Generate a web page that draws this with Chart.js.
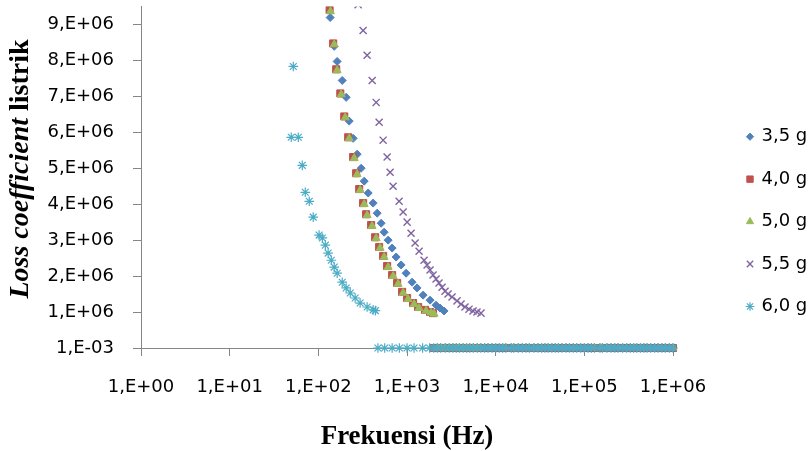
<!DOCTYPE html>
<html>
<head>
<meta charset="utf-8">
<script src="https://cdn.jsdelivr.net/npm/chart.js@4.4.1/dist/chart.umd.min.js"></script>
<style>
  html, body { margin: 0; padding: 0; background: #fff; }
  #wrap { width: 812px; height: 451px; }
</style>
</head>
<body>
<div id="wrap"><canvas id="chart" width="812" height="451"></canvas></div>
<script>
// --- values ---
const seriesLabels = ['3,5 g', '4,0 g', '5,0 g', '5,5 g', '6,0 g'];

const freq35 = [136, 151, 163, 186, 206, 223, 247, 274, 304, 329, 365, 415, 461, 511, 552, 613, 680, 754, 858, 977, 1141, 1299, 1518, 1820, 2127, 2358, 2617];
const loss35 = [9.19e6, 8.39e6, 7.97e6, 7.44e6, 6.97e6, 6.31e6, 5.83e6, 5.39e6, 5.00e6, 4.64e6, 4.31e6, 4.03e6, 3.75e6, 3.47e6, 3.22e6, 3.00e6, 2.78e6, 2.53e6, 2.31e6, 2.08e6, 1.83e6, 1.67e6, 1.47e6, 1.33e6, 1.19e6, 1.11e6, 1.03e6];

const freq40 = [134, 147, 159, 177, 196, 217, 247, 267, 289, 320, 346, 394, 437, 485, 538, 597, 680, 774, 881, 1003, 1171, 1334, 1599, 1820, 1967];
const loss40 = [9.40e6, 8.47e6, 7.75e6, 7.08e6, 6.44e6, 5.86e6, 5.31e6, 4.86e6, 4.42e6, 4.03e6, 3.72e6, 3.42e6, 3.08e6, 2.81e6, 2.56e6, 2.28e6, 2.03e6, 1.81e6, 1.56e6, 1.39e6, 1.25e6, 1.14e6, 1.06e6, 1.00e6, 0.97e6];

const freq50 = [137, 151, 163, 181, 201, 223, 254, 274, 296, 329, 355, 404, 449, 498, 552, 613, 698, 794, 904, 1029, 1202, 1369, 1641, 1868, 2019];
const loss50 = [9.36e6, 8.44e6, 7.72e6, 7.05e6, 6.41e6, 5.83e6, 5.28e6, 4.83e6, 4.39e6, 4.00e6, 3.69e6, 3.39e6, 3.05e6, 2.78e6, 2.53e6, 2.25e6, 2.00e6, 1.78e6, 1.53e6, 1.36e6, 1.22e6, 1.11e6, 1.03e6, 0.98e6, 0.95e6];

const freq55 = [281, 320, 355, 405, 449, 485, 538, 597, 645, 697, 815, 904, 1003, 1112, 1234, 1369, 1558, 1684, 1820, 1967, 2127, 2298, 2485, 2686, 2903, 3220, 3666, 4067, 4510, 5005, 5551, 6157, 6832];
const loss55 = [9.55e6, 8.83e6, 8.14e6, 7.44e6, 6.83e6, 6.28e6, 5.78e6, 5.31e6, 4.89e6, 4.50e6, 4.08e6, 3.78e6, 3.50e6, 3.19e6, 2.92e6, 2.69e6, 2.44e6, 2.31e6, 2.17e6, 2.03e6, 1.92e6, 1.81e6, 1.69e6, 1.58e6, 1.50e6, 1.42e6, 1.31e6, 1.22e6, 1.14e6, 1.08e6, 1.03e6, 1.00e6, 0.97e6];

const freq60 = [49.5, 52.2, 59.4, 65.9, 71.2, 79, 87.6, 102, 111, 120, 129, 140, 151, 163, 186, 206, 229, 260, 296, 355, 415, 440];
const loss60 = [5.86e6, 7.83e6, 5.86e6, 5.08e6, 4.33e6, 4.08e6, 3.64e6, 3.14e6, 3.06e6, 2.86e6, 2.64e6, 2.44e6, 2.25e6, 2.08e6, 1.83e6, 1.67e6, 1.53e6, 1.39e6, 1.25e6, 1.14e6, 1.06e6, 1.04e6];

// high-frequency points that all sit on the bottom line (1,E-03)
const tailFreq = [470, 560, 680, 820, 1000, 1200, 1500, 1800, 2000, 2200, 2400, 2700, 3000, 3300, 3600, 3900, 4300, 4700,
  5100, 5600, 6200, 6800, 7500, 8200, 9100,
  10000, 11000, 12000, 13000, 15000, 16000, 18000, 20000, 22000, 24000, 27000, 30000, 33000, 36000, 39000, 43000, 47000,
  51000, 56000, 62000, 68000, 75000, 82000, 91000,
  100000, 110000, 120000, 130000, 150000, 160000, 180000, 200000, 220000, 240000, 270000, 300000, 330000, 360000, 390000,
  430000, 470000, 510000, 560000, 620000, 680000, 750000, 820000, 910000, 1000000];
const tailLoss = 1e-3;

const xTickValues = [1, 10, 100, 1000, 10000, 100000, 1000000];
const xTickLabels = ['1,E+00', '1,E+01', '1,E+02', '1,E+03', '1,E+04', '1,E+05', '1,E+06'];
const yTickValues = [1e-3, 1e6, 2e6, 3e6, 4e6, 5e6, 6e6, 7e6, 8e6, 9e6];
const yTickLabels = ['1,E-03', '1,E+06', '2,E+06', '3,E+06', '4,E+06', '5,E+06', '6,E+06', '7,E+06', '8,E+06', '9,E+06'];

const xTitle = 'Frekuensi (Hz)';
const yTitleItalic = 'Loss coefficient ';
const yTitleRest = 'listrik';

// --- styles ---
const TICK_FONT = { family: 'DejaVu Sans', size: 18 };
const AXIS_GREY = '#868686';
const markers = [
  { color: '#4F81BD', style: 'rectRot', radius: 4, border: 1 },
  { color: '#C0504D', style: 'rect', radius: 5, border: 1 },
  { color: '#9BBB59', style: 'triangle', radius: 4.6, border: 1 },
  { color: '#8064A2', style: 'crossRot', radius: 5, border: 1.4 },
  { color: '#4BACC6', style: 'star', radius: 4.8, border: 1.2 }
];

function buildPoints(freqs, losses) {
  const pts = freqs.map((f, i) => ({ x: f, y: losses[i] }));
  const last = Math.max(...freqs);
  tailFreq.filter(f => f > last).forEach(f => pts.push({ x: f, y: tailLoss }));
  return pts;
}

const seriesData = [
  buildPoints(freq35, loss35),
  buildPoints(freq40, loss40),
  buildPoints(freq50, loss50),
  buildPoints(freq55, loss55),
  buildPoints(freq60, loss60)
];

const datasets = seriesData.map((pts, i) => ({
  label: seriesLabels[i],
  data: pts,
  showLine: false,
  pointStyle: markers[i].style,
  pointRadius: markers[i].radius,
  pointHoverRadius: markers[i].radius,
  pointBackgroundColor: markers[i].color,
  pointBorderColor: markers[i].color,
  pointBorderWidth: markers[i].border,
  order: seriesLabels.length - i,   // later series painted on top, like Excel
  clip: { left: 12, top: 0, right: 12, bottom: 12 }
}));

// y title mixes italic and upright text, so draw it by hand
const yTitlePlugin = {
  id: 'yTitle',
  afterDraw(chart) {
    const ctx = chart.ctx;
    const f1 = 'italic bold 28px "Liberation Serif"';
    const f2 = 'bold 28px "Liberation Serif"';
    ctx.save();
    ctx.translate(28, 169);
    ctx.rotate(-Math.PI / 2);
    ctx.fillStyle = '#000';
    ctx.textBaseline = 'alphabetic';
    ctx.font = f1; const w1 = ctx.measureText(yTitleItalic).width;
    ctx.font = f2; const w2 = ctx.measureText(yTitleRest).width;
    const x0 = -(w1 + w2) / 2;
    ctx.font = f1; ctx.fillText(yTitleItalic, x0, 0);
    ctx.font = f2; ctx.fillText(yTitleRest, x0 + w1, 0);
    ctx.restore();
  }
};

// legend on the right, placed like the original
const sideLegendPlugin = {
  id: 'sideLegend',
  afterDraw(chart) {
    const ctx = chart.ctx;
    ctx.save();
    chart.data.datasets.forEach((ds, i) => {
      const y = 136.7 + i * 42.45;
      ctx.fillStyle = ds.pointBackgroundColor;
      ctx.strokeStyle = ds.pointBorderColor;
      ctx.lineWidth = ds.pointBorderWidth;
      Chart.helpers.drawPoint(ctx, {
        pointStyle: ds.pointStyle, radius: ds.pointRadius * 0.9, rotation: 0, borderWidth: ds.pointBorderWidth
      }, 750, y);
      ctx.fillStyle = '#000';
      ctx.font = '18px "DejaVu Sans"';
      ctx.textBaseline = 'middle';
      ctx.textAlign = 'left';
      ctx.fillText(ds.label, 761.5, y);
    });
    ctx.restore();
  }
};

new Chart(document.getElementById('chart'), {
  type: 'scatter',
  data: { datasets: datasets },
  options: {
    responsive: false,
    animation: false,
    devicePixelRatio: 1,
    layout: { padding: { top: 6, right: 139, left: 0, bottom: 0 } },
    plugins: {
      legend: { display: false },
      tooltip: { enabled: false }
    },
    events: [],
    scales: {
      x: {
        type: 'logarithmic',
        min: 1,
        max: 1e6,
        afterBuildTicks: s => { s.ticks = xTickValues.map(v => ({ value: v })); },
        afterFit: s => { s.height = 103; s.paddingLeft = 0; s.paddingRight = 0; },
        border: { display: true, color: AXIS_GREY, width: 1 },
        grid: { drawOnChartArea: false, drawTicks: true, tickLength: 8, color: AXIS_GREY },
        ticks: {
          callback: (v, i) => xTickLabels[i],
          font: TICK_FONT, color: '#000', padding: 21,
          maxRotation: 0, autoSkip: false
        },
        title: {
          display: true, text: xTitle, color: '#000',
          font: { family: 'Liberation Serif', size: 27, weight: 'bold', lineHeight: 1 },
          padding: { top: 0, bottom: 0 }
        }
      },
      y: {
        type: 'linear',
        min: 1e-3,
        max: 9.5e6,
        afterBuildTicks: s => { s.ticks = yTickValues.map(v => ({ value: v })); },
        afterFit: s => { s.width = 141; s.paddingTop = 0; s.paddingBottom = 0; },
        border: { display: true, color: AXIS_GREY, width: 1 },
        grid: { drawOnChartArea: false, drawTicks: true, tickLength: 8, color: AXIS_GREY },
        ticks: {
          callback: (v, i) => yTickLabels[i],
          font: TICK_FONT, color: '#000', padding: 19, autoSkip: false
        }
      }
    }
  },
  plugins: [yTitlePlugin, sideLegendPlugin]
});
</script>
</body>
</html>
